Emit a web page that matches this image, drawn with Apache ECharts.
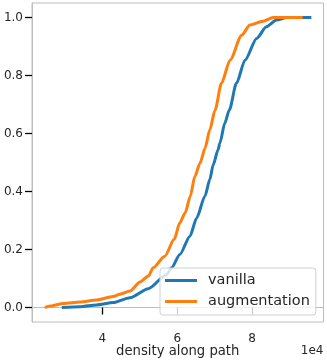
<!DOCTYPE html>
<html>
<head>
<meta charset="utf-8">
<script src="https://cdn.jsdelivr.net/npm/echarts@6/dist/echarts.min.js"></script>
<style>
html,body{margin:0;padding:0;background:#fff;}
#chart{width:327px;height:360px;}
</style>
</head>
<body>
<div id="chart"></div>
<script>
// x values in units of 1e4 (density along path), y = cumulative fraction
const seriesNames = ['vanilla', 'augmentation'];
const vanillaX = [2.92, 3.41, 3.85, 4.29, 4.74, 5.23, 5.72, 5.85, 6.07, 6.34, 6.52, 6.74, 6.87, 6.96, 7.09, 7.14, 7.27, 7.39, 7.58, 7.81, 8.12, 8.38, 8.65, 8.92, 9.58];
const vanillaY = [0.0, 0.003, 0.009, 0.017, 0.034, 0.065, 0.114, 0.137, 0.183, 0.246, 0.309, 0.384, 0.441, 0.492, 0.544, 0.567, 0.636, 0.681, 0.773, 0.853, 0.928, 0.968, 0.991, 1.0, 1.0];
const augX = [2.47, 2.61, 2.96, 3.41, 3.85, 4.29, 4.47, 4.74, 5.01, 5.23, 5.36, 5.67, 5.92, 6.07, 6.21, 6.35, 6.47, 6.61, 6.74, 6.87, 7.01, 7.18, 7.41, 7.72, 7.94, 8.29, 8.56, 9.35];
const augY = [0.0, 0.005, 0.014, 0.019, 0.026, 0.038, 0.046, 0.057, 0.088, 0.109, 0.137, 0.177, 0.235, 0.292, 0.326, 0.384, 0.452, 0.498, 0.548, 0.613, 0.681, 0.773, 0.853, 0.939, 0.974, 0.987, 1.0, 1.0];
const xTicks = [4, 6, 8];
const yTicks = [0.0, 0.2, 0.4, 0.6, 0.8, 1.0];
const xLabel = 'density along path';
const xScaleText = '1e4';

const pairs = (xs, ys) => xs.map((x, i) => [x, ys[i]]);
const font = 'DejaVu Sans';
const chart = echarts.init(document.getElementById('chart'), null, {renderer: 'canvas'});
chart.setOption({
  animation: false,
  backgroundColor: '#fff',
  grid: {left: 32, right: 3.5, top: 3, bottom: 38, show: true, borderColor: '#bdbdbd', borderWidth: 1, containLabel: false, outerBoundsMode: 'none'},
  xAxis: {
    type: 'value', min: 2.125, max: 9.904,
    name: xLabel, nameLocation: 'middle', nameGap: 23, nameMoveOverlap: false,
    nameTextStyle: {fontFamily: font, fontSize: 13.2, color: '#262626', verticalAlign: 'top'},
    axisLine: {show: true, lineStyle: {color: '#bdbdbd', width: 1}},
    axisTick: {show: true, length: 7, lineStyle: {color: '#000', width: 1.3}, customValues: xTicks},
    axisLabel: {fontFamily: font, fontSize: 12, color: '#262626', margin: 11, customValues: xTicks, formatter: v => String(v)},
    splitLine: {show: false}
  },
  yAxis: {
    type: 'value', min: -0.05, max: 1.05,
    axisLine: {show: true, lineStyle: {color: '#bdbdbd', width: 1}},
    axisTick: {show: true, length: 7, lineStyle: {color: '#000', width: 1.3}, customValues: yTicks},
    axisLabel: {fontFamily: font, fontSize: 12, color: '#262626', margin: 9, customValues: yTicks, formatter: v => v.toFixed(1)},
    splitLine: {show: false}
  },
  legend: {
    orient: 'vertical', left: 160, top: 268,
    padding: [4, 6, 5, 5], itemGap: 4,
    itemWidth: 32, itemHeight: 3, icon: 'rect',
    backgroundColor: 'rgba(255,255,255,0.8)', borderColor: '#d0d0d0', borderWidth: 1, borderRadius: 3,
    textStyle: {fontFamily: font, fontSize: 14.5, color: '#262626', lineHeight: 17, padding: [0, 0, 0, 6]},
    data: seriesNames
  },
  graphic: [{
    type: 'text', right: 3.5, top: 345,
    style: {text: xScaleText, fontFamily: font, fontSize: 12, fill: '#262626'}
  }],
  series: [
    {name: seriesNames[0], type: 'line', data: pairs(vanillaX, vanillaY), showSymbol: false, smooth: 0.25, smoothMonotone: 'x', color: '#1f77b4', lineStyle: {width: 3, color: '#1f77b4'}, z: 2},
    {name: seriesNames[1], type: 'line', data: pairs(augX, augY), showSymbol: false, smooth: 0.25, smoothMonotone: 'x', color: '#ff7f0e', lineStyle: {width: 3, color: '#ff7f0e'}, z: 3}
  ]
});
</script>
</body>
</html>
